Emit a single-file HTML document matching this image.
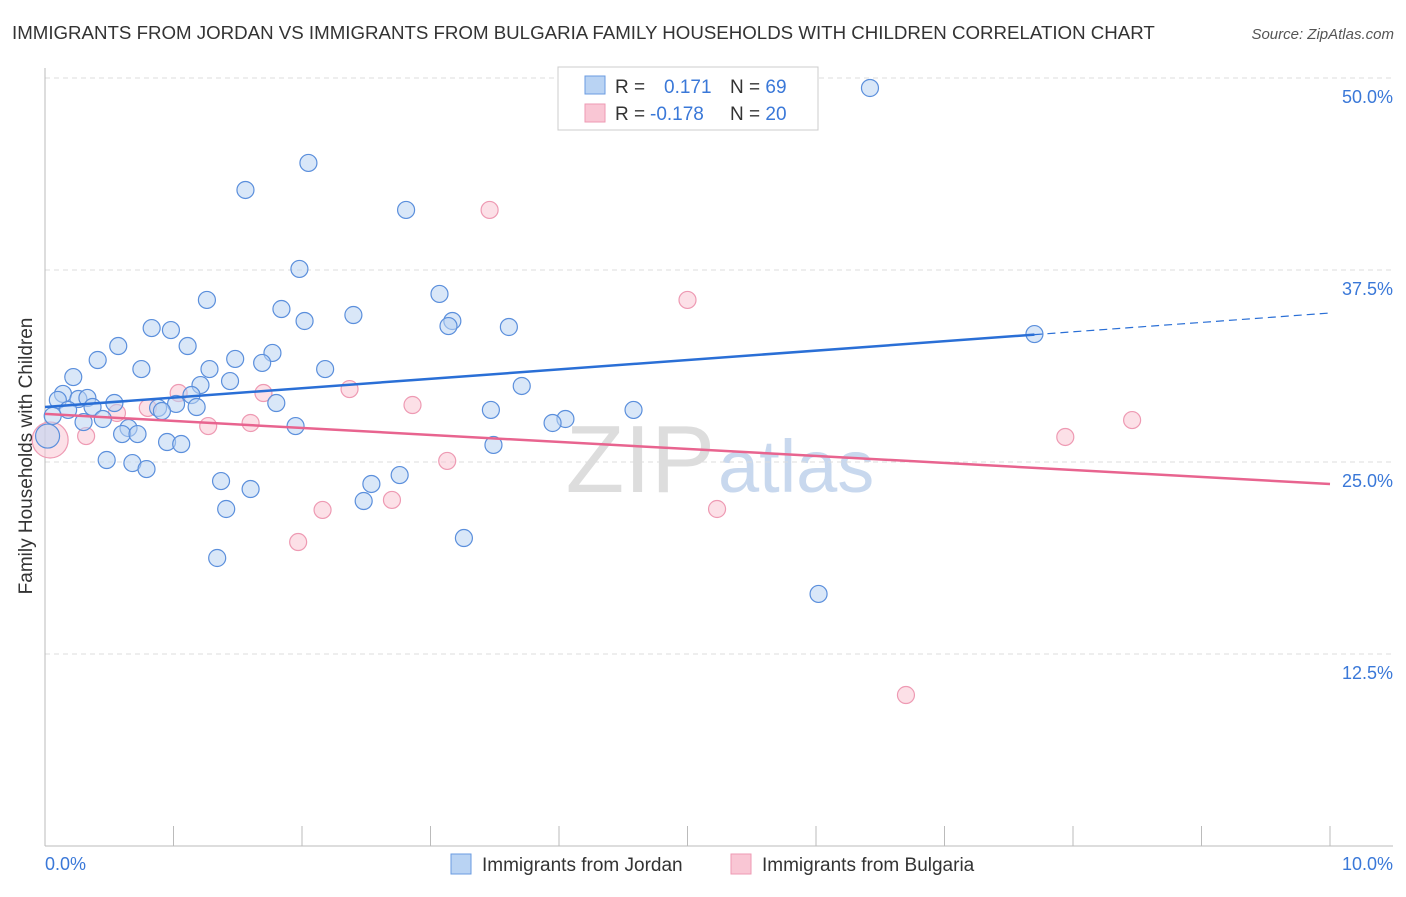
<!DOCTYPE html>
<html><head><meta charset="utf-8"><style>
body{margin:0;background:#fff;font-family:"Liberation Sans",sans-serif;}
svg text{font-family:"Liberation Sans",sans-serif;}
</style></head><body>
<svg id="chart" width="1406" height="892">
<text x="12" y="39" font-size="18.7" fill="#333">IMMIGRANTS FROM JORDAN VS IMMIGRANTS FROM BULGARIA FAMILY HOUSEHOLDS WITH CHILDREN CORRELATION CHART</text>
<text x="1394" y="39" font-size="15" fill="#555" font-style="italic" text-anchor="end">Source: ZipAtlas.com</text>
<text x="715" y="492" font-size="96" fill="#ddd" text-anchor="end" font-family="Liberation Serif">ZIP</text>
<text x="718" y="492" font-size="74" fill="#c8d8ee">atlas</text>
<g id="grid"></g><g id="marks"></g>
<text x="32" y="456" font-size="19" fill="#333" text-anchor="middle" transform="rotate(-90 32 456)">Family Households with Children</text>
<g>
<rect x="558" y="67" width="260" height="63" fill="#fff" stroke="#ccc"/>
<rect x="585" y="76" width="20" height="18" fill="#b9d3f3" stroke="#6a9be0"/>
<rect x="585" y="104" width="20" height="18" fill="#f9c6d4" stroke="#ee9ab3"/>
<text x="615" y="93" font-size="19" fill="#333">R = <tspan fill="#3a78d8" x="664">0.171</tspan><tspan fill="#333" x="730">N = </tspan><tspan fill="#3a78d8">69</tspan></text>
<text x="615" y="120" font-size="19" fill="#333">R = <tspan fill="#3a78d8" x="650">-0.178</tspan><tspan fill="#333" x="730">N = </tspan><tspan fill="#3a78d8">20</tspan></text>
</g>
<g>
<rect x="451" y="854" width="20" height="20" fill="#b9d3f3" stroke="#6a9be0"/>
<text x="482" y="871" font-size="19" fill="#333">Immigrants from Jordan</text>
<rect x="731" y="854" width="20" height="20" fill="#f9c6d4" stroke="#ee9ab3"/>
<text x="762" y="871" font-size="19" fill="#333">Immigrants from Bulgaria</text>
</g>
</svg>
<script>
const yTicks=[12.5,25,37.5,50];
const yTickLabels=["12.5%","25.0%","37.5%","50.0%"];
const xTickLabels=["0.0%","10.0%"];
const jordanX=[6.42,2.05,1.56,2.81,1.98,1.26,3.07,1.84,2.40,2.02,3.17,3.14,3.61,0.83,0.98,7.70,0.57,1.11,1.77,0.41,1.48,1.69,0.75,1.28,2.18,0.22,1.44,1.21,3.71,0.14,1.14,0.26,0.33,0.10,0.54,1.80,1.02,0.37,0.18,1.18,0.88,0.91,3.47,4.58,0.06,0.45,0.30,4.05,3.95,1.95,0.65,0.60,0.72,0.02,0.95,1.06,3.49,0.48,0.68,0.79,2.76,1.37,2.54,1.60,2.48,1.41,3.26,1.34,6.02];
const jordanY=[49.35,44.47,42.71,41.41,37.57,35.55,35.94,34.96,34.57,34.18,34.18,33.85,33.79,33.72,33.59,33.33,32.55,32.55,32.10,31.64,31.71,31.45,31.05,31.05,31.05,30.53,30.27,30.01,29.95,29.43,29.36,29.10,29.17,29.04,28.84,28.84,28.78,28.58,28.39,28.58,28.52,28.32,28.39,28.39,28.0,27.80,27.60,27.80,27.54,27.34,27.21,26.82,26.82,26.69,26.30,26.17,26.11,25.13,24.93,24.54,24.15,23.76,23.57,23.24,22.46,21.94,20.05,18.75,16.41];
const bulgariaX=[3.46,5.00,2.37,1.04,1.70,2.86,0.80,0.56,8.46,1.27,1.60,0.32,7.94,0.04,3.13,2.70,2.16,5.23,1.97,6.70];
const bulgariaY=[41.41,35.55,29.75,29.49,29.49,28.71,28.52,28.19,27.73,27.34,27.54,26.69,26.63,26.43,25.07,22.53,21.88,21.94,19.79,9.83];
const jordanTrend=[28.58,34.70];
const bulgariaTrend=[28.13,23.57];
const X0=45,X1=1330,YB=846,YT=78;
const sx=v=>X0+(X1-X0)*v/10;
const sy=v=>YB-(YB-YT)*v/50;
const NS="http://www.w3.org/2000/svg";
function mk(t,a,p){const e=document.createElementNS(NS,t);for(const k in a)e.setAttribute(k,a[k]);p.appendChild(e);return e;}
const grid=document.getElementById('grid'),marks=document.getElementById('marks');
yTicks.forEach((t,i)=>{
 const l=mk('line',{x1:X0,x2:1393,y1:sy(t),y2:sy(t),stroke:'#ddd','stroke-dasharray':'5,4'},grid);
 
 
 const tx=mk('text',{x:1393,y:sy(t)+25,'font-size':18,fill:'#3a78d8','text-anchor':'end'},grid);
 tx.textContent=yTickLabels[i];
 
 
});
const ax=mk('line',{x1:X0,x2:X0,y1:68,y2:YB,stroke:'#bbb'},grid);


const bx=mk('line',{x1:X0,x2:1393,y1:YB,y2:YB,stroke:'#bbb'},grid);


for(let i=0;i<=10;i++){const t=mk('line',{x1:sx(i),x2:sx(i),y1:826,y2:YB,stroke:'#bbb'},grid);
 
 }
[[0,'start',45],[10,'end',1393]].forEach((d,i)=>{const t=mk('text',{x:d[2],y:870,'font-size':18,fill:'#3a78d8','text-anchor':d[1]},grid);t.textContent=xTickLabels[i];
 
 });
function pts(xs,ys,fill,stroke,name,big){xs.forEach((x,i)=>{const r=(big!==undefined&&i===big)?(name==='bulgaria-point'?18:12):8.5;
 const c=mk('circle',{cx:sx(x),cy:sy(ys[i]),r:r,fill:fill,'fill-opacity':0.55,stroke:stroke,'stroke-width':1.2},marks);
 
 });}
pts(bulgariaX,bulgariaY,'#f9c6d4','#ee9ab3','bulgaria-point',13);
pts(jordanX,jordanY,'#b9d3f3','#5b8fdc','jordan-point',53);
const jx=7.7, jy=jordanTrend[0]+(jordanTrend[1]-jordanTrend[0])*jx/10;
const l1=mk('line',{x1:sx(0),y1:sy(jordanTrend[0]),x2:sx(jx),y2:sy(jy),stroke:'#2a6fd6','stroke-width':2.5},marks);


const l2=mk('line',{x1:sx(jx),y1:sy(jy),x2:sx(10),y2:sy(jordanTrend[1]),stroke:'#2a6fd6','stroke-width':1.2,'stroke-dasharray':'8,5'},marks);


const l3=mk('line',{x1:sx(0),y1:sy(bulgariaTrend[0]),x2:sx(10),y2:sy(bulgariaTrend[1]),stroke:'#e8648f','stroke-width':2.5},marks);


</script>
</body></html>
